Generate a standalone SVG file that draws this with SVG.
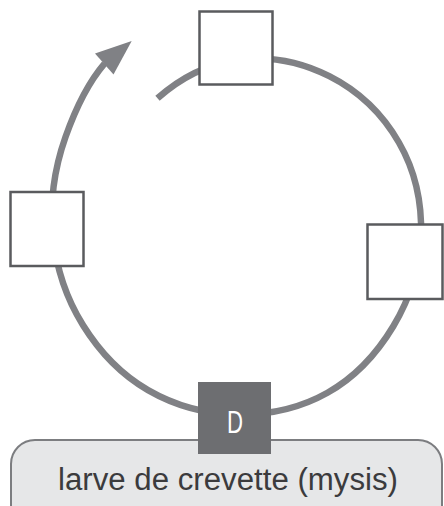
<svg xmlns="http://www.w3.org/2000/svg" width="444" height="506" viewBox="0 0 444 506">
<style>
.arc{fill:none;stroke:#808185;stroke-width:6.5}
.head{fill:#808185}
.box{fill:#ffffff;stroke:#5a5b5e;stroke-width:2.5}
.dbox{fill:#6d6e71}
.lbl{fill:#e6e7e8;stroke:#7c7d80;stroke-width:2}
.t{font-family:"Liberation Sans","DejaVu Sans",sans-serif}
</style>
<rect width="444" height="506" fill="#ffffff"/>
<g id="connectors">
<path class="arc" d="M157.5,98.3 C178.7,79.5 206.3,64.3 237,60 C267.7,55.7 300.45,61.7 329.25,76.2 C358.05,90.7 382.6,114.25 398.9,142.5 C415.2,170.75 422.1,203.9 421,236 C419.9,268.1 409.5,299.2 393.3,326.25 C377.1,353.25 355,377.25 327.5,392.75 C300,408.25 268.1,415 237,414.5 C205.9,414 174.9,405.6 148,390.1 C121.1,374.6 99.3,351.4 82.9,325 C66.5,298.6 56.3,268.1 53,236 C49.7,203.9 53.8,170.1 65.5,137 C74.2,112.4 85.4,85.9 104.5,63.6"/>
<polygon class="head" points="131.7,41 95,53.5 113.5,74.5"/>
</g>
<g id="node-top"><rect class="box" x="199.5" y="11.5" width="73" height="73"/></g>
<g id="node-right"><rect class="box" x="367.5" y="224.5" width="75" height="74.5"/></g>
<g id="node-left"><rect class="box" x="10.5" y="192" width="73" height="74"/></g>
<g id="node-label"><rect class="lbl" x="11" y="440" width="431" height="90" rx="24"/>
<text class="t" x="228" y="490" font-size="31" fill="#3b3b3d" text-anchor="middle" textLength="340" lengthAdjust="spacingAndGlyphs">larve de crevette (mysis)</text></g>
<g id="node-D"><rect class="dbox" x="198" y="382" width="73" height="72"/>
<text class="t" x="235" y="432.5" font-size="31" fill="#ffffff" text-anchor="middle" textLength="16" lengthAdjust="spacingAndGlyphs">D</text></g>
</svg>
